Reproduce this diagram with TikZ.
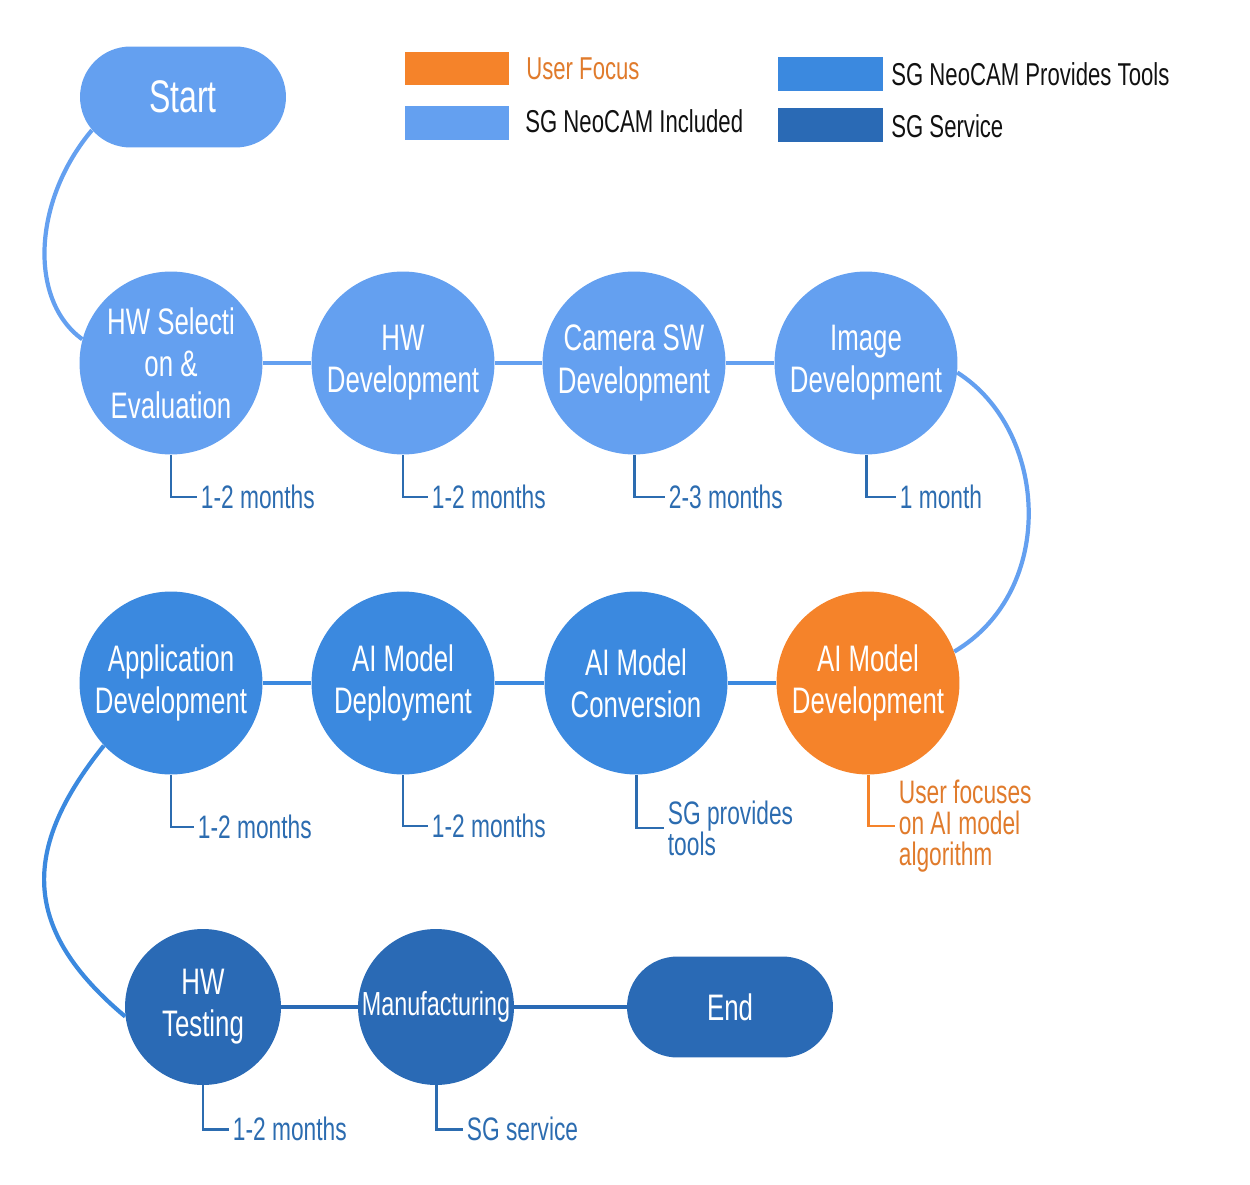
\documentclass[tikz,border=0pt]{standalone}
\usepackage{fontspec}
\setmainfont{Liberation Sans}
\newfontfamily\cf[FakeStretch=0.7]{Liberation Sans}
\usetikzlibrary{shapes.misc}
\definecolor{lb}{HTML}{64A0F0}
\definecolor{mb}{HTML}{3B89DF}
\definecolor{db}{HTML}{2A6AB5}
\definecolor{og}{HTML}{F5832A}
\definecolor{ogt}{HTML}{E07B2C}
\definecolor{lbl}{HTML}{2C6CB0}
\definecolor{ink}{HTML}{111111}
\begin{document}
\begin{tikzpicture}[x=0.02cm,y=-0.02cm,
  bigc/.style={circle, inner sep=0pt, minimum size=3.66cm, text=white, align=center,
    font=\cf\fontsize{21}{24}\selectfont},
  smallc/.style={circle, inner sep=0pt, minimum size=3.12cm, text=white, align=center,
    font=\cf\fontsize{21}{24}\selectfont},
  stad/.style={rounded rectangle, inner sep=0pt, minimum width=4.12cm, minimum height=2.02cm, text=white},
  lab/.style={anchor=west, inner sep=2pt, align=left, text=lbl, font=\cf\fontsize{18.5}{17.6}\selectfont},
  tick/.style={draw=lbl, line width=1.7pt},
  conn/.style={line width=2.8pt},
  curv/.style={line width=2.4pt},
  legt/.style={anchor=west, inner sep=0pt, text=ink, font=\cf\fontsize{18}{20}\selectfont}
]
\useasboundingbox (0,0) rectangle (1250,1185);

% legend
\fill[og] (405,52) rectangle (509,85);
\node[legt, text=ogt] (lg1) at (526,69) {User Focus};
\fill[lb] (405,106) rectangle (509,140);
\node[legt] (lg2) at (525,121) {SG NeoCAM Included};
\fill[mb] (778,57) rectangle (883,91);
\node[legt] (lg3) at (891,74) {SG NeoCAM Provides Tools};
\fill[db] (778,108) rectangle (883,142);
\node[legt] (lg4) at (891,126) {SG Service};

% nodes
\node[stad, fill=lb, font=\cf\fontsize{26}{28}\selectfont] (start) at (183,97) {Start};

\node[bigc, fill=lb] (hwsel) at (171,363) {HW Selecti\\on \&\\Evaluation};
\node[bigc, fill=lb] (hwdev) at (403,363) {HW\\Development};
\node[bigc, fill=lb] (camsw) at (634,363) {Camera SW\\Development};
\node[bigc, fill=lb] (imgdev) at (866,363) {Image\\Development};

\node[bigc, fill=mb] (app) at (171,683) {Application\\Development};
\node[bigc, fill=mb] (aidep) at (403,683) {AI Model\\Deployment};
\node[bigc, fill=mb] (aiconv) at (636,683) {AI Model\\Conversion};
\node[bigc, fill=og] (aidev) at (868,683) {AI Model\\Development};

\node[smallc, fill=db] (hwtest) at (203,1007) {HW\\Testing};
\node[smallc, fill=db, font=\cf\fontsize{19}{22}\selectfont] (mfg) at (436,1007) {Manufacturing};
\node[stad, fill=db, font=\cf\fontsize{21}{24}\selectfont] (end) at (730,1007) {End};

% connectors
\draw[conn, lb] (hwsel) -- (hwdev);
\draw[conn, lb] (hwdev) -- (camsw);
\draw[conn, lb] (camsw) -- (imgdev);
\draw[conn, mb] (app) -- (aidep);
\draw[conn, mb] (aidep) -- (aiconv);
\draw[conn, mb] (aiconv) -- (aidev);
\draw[conn, db] (hwtest) -- (mfg);
\draw[conn, db] (mfg) -- (end);

\draw[curv, lb] (start.200) .. controls (33,200) and (28,300) .. (hwsel.165);
\draw[curv, lb] (imgdev.-6) .. controls (1048,430) and (1058,590) .. (aidev.20);
\draw[curv, mb] (app.223) .. controls (20,850) and (22,930) .. (hwtest.187);

% labels
\node[lab] (l1) at (197,497) {1-2 months};
\node[lab] (l2) at (428,497) {1-2 months};
\node[lab] (l3) at (665,497) {2-3 months};
\node[lab] (l4) at (896,497) {1 month};
\node[lab] (l5) at (194,827) {1-2 months};
\node[lab] (l6) at (428,826) {1-2 months};
\node[lab] (l7) at (664,828) {SG provides\\tools};
\node[lab, text=ogt] (l8) at (895,826) {User focuses\\on AI model\\algorithm};
\node[lab] (l9) at (229,1129) {1-2 months};
\node[lab] (l10) at (463,1129) {SG service};

\draw[tick] (hwsel.south) |- (l1.west);
\draw[tick] (hwdev.south) |- (l2.west);
\draw[tick] (camsw.south) |- (l3.west);
\draw[tick] (imgdev.south) |- (l4.west);
\draw[tick] (app.south) |- (l5.west);
\draw[tick] (aidep.south) |- (l6.west);
\draw[tick] (aiconv.south) |- (l7.west);
\draw[tick, draw=og] (aidev.south) |- (l8.west);
\draw[tick] (hwtest.south) |- (l9.west);
\draw[tick] (mfg.south) |- (l10.west);
\end{tikzpicture}
\end{document}
